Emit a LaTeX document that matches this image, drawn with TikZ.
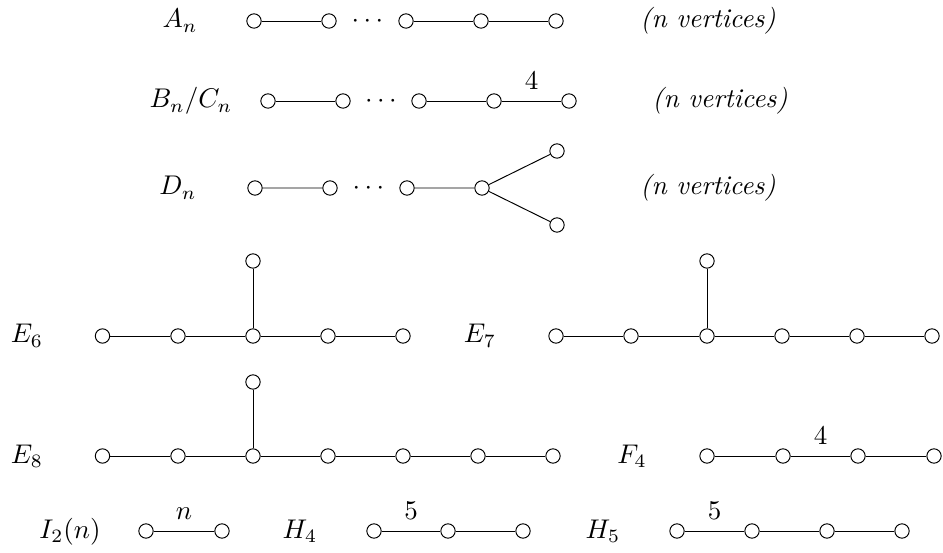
\documentclass[tikz,border=0pt]{standalone}
\begin{document}
\begin{tikzpicture}[x=0.37pt,y=-0.37pt,
  vtx/.style={circle,draw,line width=0.36pt,minimum size=5.3pt,inner sep=0pt},
  bond/.style={line width=0.36pt},
  lbl/.style={anchor=base,inner sep=0pt},
  wt/.style={above=4pt,inner sep=0pt}]
\useasboundingbox (0,0) rectangle (943,553);

% A_n
\node[lbl] (lA) at (180,28) {$A_n$};
\node[vtx] (a1) at (254,21) {};
\node[vtx] (a2) at (329,21) {};
\node[vtx] (a3) at (406,21) {};
\node[vtx] (a4) at (481,21) {};
\node[vtx] (a5) at (556,21) {};
\node[lbl] (aD) at (367.5,28) {$\cdots$};
\draw[bond] (a1) -- (a2) (a3) -- (a4) -- (a5);
\node[lbl] (vA) at (708,28) {\textit{(n vertices)}};

% B_n / C_n
\node[lbl] (lB) at (191,108) {$B_n/C_n$};
\node[vtx] (b1) at (268,101) {};
\node[vtx] (b2) at (343,101) {};
\node[vtx] (b3) at (419,101) {};
\node[vtx] (b4) at (494,101) {};
\node[vtx] (b5) at (569,101) {};
\node[lbl] (bD) at (381,108) {$\cdots$};
\draw[bond] (b1) -- (b2) (b3) -- (b4);
\draw[bond] (b4) -- node[wt] (bw) {$4$} (b5);
\node[lbl] (vB) at (720,108) {\textit{(n vertices)}};

% D_n
\node[lbl] (lD) at (178,195) {$D_n$};
\node[vtx] (d1) at (255,188) {};
\node[vtx] (d2) at (330,188) {};
\node[vtx] (d3) at (407,188) {};
\node[vtx] (d4) at (482,188) {};
\node[vtx] (d5) at (557,151) {};
\node[vtx] (d6) at (557,225) {};
\node[lbl] (dD) at (368.5,195) {$\cdots$};
\draw[bond] (d1) -- (d2) (d3) -- (d4) -- (d5) (d4) -- (d6);
\node[lbl] (vD) at (708,195) {\textit{(n vertices)}};

% E_6
\node[lbl] (lE6) at (27,343) {$E_6$};
\node[vtx] (e61) at (102.5,336) {};
\node[vtx] (e62) at (178,336) {};
\node[vtx] (e63) at (253,336) {};
\node[vtx] (e64) at (328,336) {};
\node[vtx] (e65) at (403,336) {};
\node[vtx] (e66) at (253,261) {};
\draw[bond] (e61) -- (e62) -- (e63) -- (e64) -- (e65) (e63) -- (e66);

% E_7
\node[lbl] (lE7) at (480,343) {$E_7$};
\node[vtx] (e71) at (556,336) {};
\node[vtx] (e72) at (631,336) {};
\node[vtx] (e73) at (707,336) {};
\node[vtx] (e74) at (782,336) {};
\node[vtx] (e75) at (857,336) {};
\node[vtx] (e76) at (932,336) {};
\node[vtx] (e77) at (707,261) {};
\draw[bond] (e71) -- (e72) -- (e73) -- (e74) -- (e75) -- (e76) (e73) -- (e77);

% E_8
\node[lbl] (lE8) at (27,463) {$E_8$};
\node[vtx] (e81) at (102.5,456) {};
\node[vtx] (e82) at (178,456) {};
\node[vtx] (e83) at (253,456) {};
\node[vtx] (e84) at (328,456) {};
\node[vtx] (e85) at (403,456) {};
\node[vtx] (e86) at (478,456) {};
\node[vtx] (e87) at (553,456) {};
\node[vtx] (e88) at (253,382) {};
\draw[bond] (e81) -- (e82) -- (e83) -- (e84) -- (e85) -- (e86) -- (e87) (e83) -- (e88);

% F_4
\node[lbl] (lF4) at (632,463) {$F_4$};
\node[vtx] (f1) at (707,456) {};
\node[vtx] (f2) at (783,456) {};
\node[vtx] (f3) at (858,456) {};
\node[vtx] (f4) at (934,456) {};
\draw[bond] (f1) -- (f2) (f3) -- (f4);
\draw[bond] (f2) -- node[wt] (fw) {$4$} (f3);

% I_2(n)
\node[lbl] (lI) at (70,538) {$I_2(n)$};
\node[vtx] (i1) at (146,531) {};
\node[vtx] (i2) at (222,531) {};
\draw[bond] (i1) -- node[wt] (iw) {$n$} (i2);

% H_4
\node[lbl] (lH4) at (300,538) {$H_4$};
\node[vtx] (h41) at (374,531) {};
\node[vtx] (h42) at (448,531) {};
\node[vtx] (h43) at (523,531) {};
\draw[bond] (h41) -- node[wt] (h4w) {$5$} (h42);
\draw[bond] (h42) -- (h43);

% H_5
\node[lbl] (lH5) at (603,538) {$H_5$};
\node[vtx] (h51) at (677,531) {};
\node[vtx] (h52) at (752,531) {};
\node[vtx] (h53) at (827,531) {};
\node[vtx] (h54) at (902,531) {};
\draw[bond] (h51) -- node[wt] (h5w) {$5$} (h52);
\draw[bond] (h52) -- (h53) -- (h54);
\end{tikzpicture}
\end{document}
